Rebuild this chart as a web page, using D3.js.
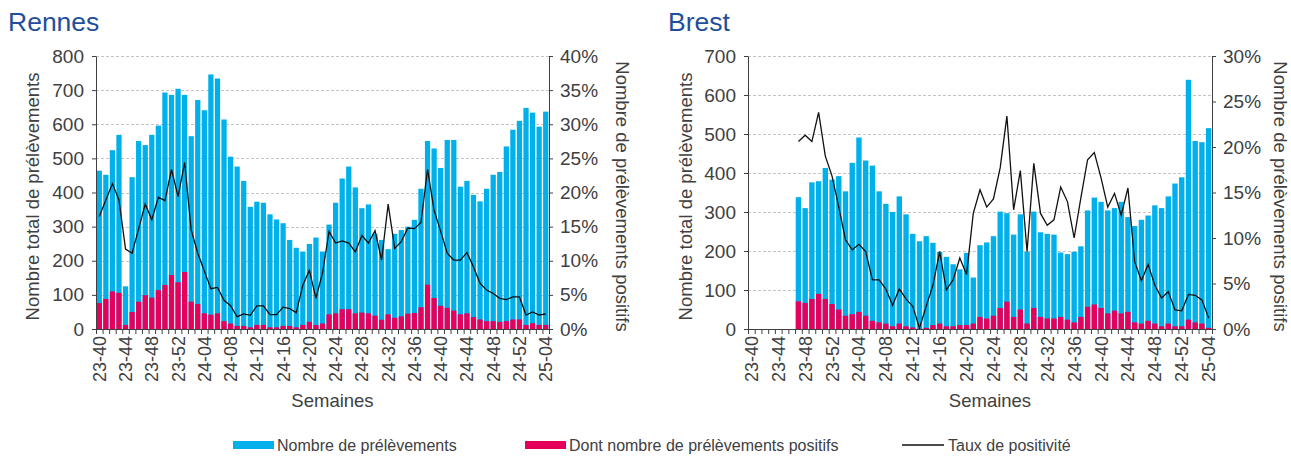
<!DOCTYPE html>
<html>
<head>
<meta charset="utf-8">
<script src="https://cdn.jsdelivr.net/npm/d3@7"></script>
<style>
  body { margin: 0; background: #fff; }
  svg { font-family: "Liberation Sans", Arial, sans-serif; }
</style>
</head>
<body>
<svg id="chart" width="1291" height="456"></svg>
<script>
/* Weeks (year-week) */
const weeks = [
  '23-40','23-41','23-42','23-43','23-44','23-45','23-46','23-47','23-48','23-49','23-50','23-51','23-52',
  '24-01','24-02','24-03','24-04','24-05','24-06','24-07','24-08','24-09','24-10','24-11','24-12','24-13',
  '24-14','24-15','24-16','24-17','24-18','24-19','24-20','24-21','24-22','24-23','24-24','24-25','24-26',
  '24-27','24-28','24-29','24-30','24-31','24-32','24-33','24-34','24-35','24-36','24-37','24-38','24-39',
  '24-40','24-41','24-42','24-43','24-44','24-45','24-46','24-47','24-48','24-49','24-50','24-51','24-52',
  '25-01','25-02','25-03','25-04'
];
const weekTicks = ['23-40','23-44','23-48','23-52','24-04','24-08','24-12','24-16','24-20','24-24',
  '24-28','24-32','24-36','24-40','24-44','24-48','24-52','25-04'];

/* Rennes */
const rennesTotal = [
  464, 452, 524, 569, 125, 445, 551, 539, 569, 596, 693, 686, 704,
  686, 565, 671, 641, 746, 734, 614, 505, 476, 434, 358, 373, 370,
  336, 321, 310, 261, 238, 227, 249, 268, 227, 306, 370, 441, 476,
  415, 354, 365, 279, 261, 234, 279, 290, 300, 320, 411, 551, 529,
  472, 554, 554, 417, 434, 393, 374, 411, 452, 460, 535, 584, 610,
  648, 634, 593, 637
];
const rennesPositive = [
  76, 88, 110, 106, 12, 50, 80, 99, 92, 114, 129, 158, 137,
  167, 80, 73, 46, 42, 46, 23, 16, 9, 9, 5, 12, 12,
  5, 5, 9, 9, 5, 12, 21, 12, 16, 43, 46, 58, 58,
  46, 48, 46, 39, 27, 43, 33, 37, 45, 47, 64, 130, 91,
  68, 62, 54, 43, 46, 35, 28, 23, 23, 21, 23, 28, 28,
  12, 17, 12, 12
];
const rennesRate = [
  16.5, 18.9, 21.3, 18.9, 11.7, 11.1, 14.7, 18.3, 16.0, 19.3, 18.8, 23.4, 19.4,
  24.4, 14.5, 11.1, 8.5, 5.9, 6.1, 4.2, 3.4, 1.8, 2.2, 2.0, 3.4, 3.4,
  2.1, 2.1, 3.2, 3.0, 2.4, 6.4, 8.6, 4.5, 8.2, 14.3, 12.6, 12.9, 12.6,
  11.3, 13.7, 12.6, 14.4, 10.1, 18.3, 11.8, 12.8, 14.8, 14.7, 15.6, 23.4, 17.4,
  14.3, 11.1, 10.1, 10.1, 11.2, 9.1, 6.7, 5.7, 5.2, 4.5, 4.3, 4.7, 4.7,
  2.05, 2.5, 2.05, 2.2
];
const rennesTicks = [0, 100, 200, 300, 400, 500, 600, 700, 800];
const rennesRateTicks = [0, 5, 10, 15, 20, 25, 30, 35, 40];

/* Brest (no data before 23-47) */
const brestTotal = [
  null, null, null, null, null, null, null, 338, 310, 376, 379, 413, 383,
  392, 353, 426, 491, 432, 419, 353, 321, 300, 340, 294, 244, 225,
  238, 221, 198, 185, 166, 153, 195, 132, 215, 222, 238, 301, 297,
  242, 294, 198, 301, 248, 244, 242, 196, 192, 198, 212, 304, 337,
  326, 304, 310, 326, 287, 264, 280, 291, 317, 310, 340, 373, 389,
  639, 482, 479, 515
];
const brestPositive = [
  null, null, null, null, null, null, null, 71, 67, 77, 90, 77, 64,
  50, 34, 38, 44, 34, 21, 17, 14, 7, 14, 7, 4, 1,
  3, 10, 14, 7, 7, 10, 10, 14, 31, 27, 34, 54, 70,
  31, 50, 14, 54, 31, 27, 27, 31, 24, 17, 31, 57, 63,
  54, 40, 47, 40, 44, 17, 14, 21, 14, 7, 14, 7, 7,
  24, 17, 14, 3
];
const brestRate = [
  null, null, null, null, null, null, null, 20.6, 21.3, 20.6, 23.8, 19.0, 16.8,
  13.4, 9.8, 8.7, 9.3, 8.5, 5.4, 5.4, 4.4, 2.6, 4.4, 3.3, 2.5, 0.1,
  2.5, 4.8, 8.5, 4.3, 5.4, 7.8, 6.0, 12.7, 15.3, 13.4, 14.3, 17.7, 23.4,
  13.1, 17.4, 8.5, 18.2, 12.7, 11.4, 12.0, 15.6, 14.0, 10.0, 14.4, 18.6, 19.4,
  16.6, 13.4, 14.9, 12.5, 15.5, 7.4, 5.3, 7.1, 4.8, 3.4, 4.1, 2.1, 2.0,
  3.8, 3.7, 3.2, 1.2
];
const brestTicks = [0, 100, 200, 300, 400, 500, 600, 700];
const brestRateTicks = [0, 5, 10, 15, 20, 25, 30];

/* Styles */
const blue = '#00b0ea';
const pink = '#e5005b';
const axisColor = '#404040';
const plotTop = 56, plotBottom = 329;

const svg = d3.select('#chart');

function drawPanel(cfg) {
  const g = svg.append('g');

  const x = d3.scaleBand().domain(weeks).range([cfg.left, cfg.right])
    .paddingInner(0.2).paddingOuter(0.1);
  const y = d3.scaleLinear().domain([0, d3.max(cfg.ticks)]).range([plotBottom, plotTop]);
  const y2 = d3.scaleLinear().domain([0, d3.max(cfg.rateTicks)]).range([plotBottom, plotTop]);

  const rows = weeks.map((w, i) => ({
    week: w, total: cfg.total[i], positive: cfg.positive[i], rate: cfg.rate[i]
  }));
  const filled = rows.filter(d => d.total != null);

  /* dashed gridlines */
  g.append('g').selectAll('line')
    .data(cfg.ticks.filter(d => d > 0))
    .join('line')
    .attr('x1', cfg.left).attr('x2', cfg.right)
    .attr('y1', d => Math.round(y(d)) + 0.5).attr('y2', d => Math.round(y(d)) + 0.5)
    .attr('stroke', '#c4c4c4')
    .attr('stroke-dasharray', '3,2');

  /* bars: total then positives on top */
  g.append('g').selectAll('rect')
    .data(filled)
    .join('rect')
    .attr('x', d => x(d.week))
    .attr('width', x.bandwidth())
    .attr('y', d => y(d.total))
    .attr('height', d => plotBottom - y(d.total))
    .attr('fill', blue);

  g.append('g').selectAll('rect')
    .data(filled)
    .join('rect')
    .attr('x', d => x(d.week))
    .attr('width', x.bandwidth())
    .attr('y', d => y(d.positive))
    .attr('height', d => plotBottom - y(d.positive))
    .attr('fill', pink);

  /* positivity line */
  const line = d3.line()
    .defined(d => d.rate != null)
    .x(d => x(d.week) + x.bandwidth() / 2)
    .y(d => y2(d.rate));
  g.append('path')
    .datum(rows)
    .attr('d', line)
    .attr('fill', 'none')
    .attr('stroke', '#111')
    .attr('stroke-width', 1.3);

  /* left axis */
  const left = g.append('g')
    .attr('transform', `translate(${cfg.left},0)`)
    .call(d3.axisLeft(y).tickValues(cfg.ticks).tickSize(4).tickSizeOuter(0).tickPadding(8));

  /* right axis */
  const right = g.append('g')
    .attr('transform', `translate(${cfg.right},0)`)
    .call(d3.axisRight(y2).tickValues(cfg.rateTicks).tickSize(4).tickSizeOuter(0).tickPadding(7)
      .tickFormat(d => d + '%'));

  /* x axis: a tick at each week boundary */
  const xb = d3.scaleLinear().domain([0, weeks.length]).range([cfg.left, cfg.right]);
  const bottomAxis = g.append('g')
    .attr('transform', `translate(0,${plotBottom})`)
    .call(d3.axisBottom(xb).tickValues(d3.range(weeks.length + 1)).tickSize(5)
      .tickSizeOuter(0).tickFormat(''));

  /* x labels, every 4 weeks, rotated */
  const labels = g.append('g')
    .attr('transform', `translate(0,${plotBottom})`)
    .call(d3.axisBottom(x).tickValues(weekTicks).tickSize(0).tickPadding(0));
  labels.select('.domain').remove();
  labels.selectAll('text')
    .attr('transform', 'rotate(-90)')
    .attr('x', -7)
    .attr('y', 0)
    .attr('dy', '0.36em')
    .style('text-anchor', 'end')
    .style('font-size', '18px');

  [left, right, bottomAxis].forEach(a => {
    a.selectAll('.domain, line').attr('stroke', axisColor);
    a.selectAll('text').attr('fill', axisColor).style('font-size', '19px');
  });
  labels.selectAll('text').attr('fill', axisColor);

  /* titles */
  g.append('text')
    .attr('x', cfg.titleX).attr('y', 31)
    .attr('fill', '#1f4e9c')
    .style('font-size', '26.5px')
    .text(cfg.name);

  g.append('text')
    .attr('transform', `translate(${cfg.leftTitleX},${(plotTop + plotBottom) / 2 + 4}) rotate(-90)`)
    .attr('text-anchor', 'middle')
    .attr('fill', axisColor)
    .style('font-size', '18.5px')
    .text('Nombre total de prélèvements');

  g.append('text')
    .attr('transform', `translate(${cfg.rightTitleX},${(plotTop + plotBottom) / 2 + 4}) rotate(90)`)
    .attr('text-anchor', 'middle')
    .attr('fill', axisColor)
    .style('font-size', '18.5px')
    .text('Nombre de prélèvements positifs');

  g.append('text')
    .attr('x', (cfg.left + cfg.right) / 2 + 10).attr('y', 407)
    .attr('text-anchor', 'middle')
    .attr('fill', axisColor)
    .style('font-size', '18.5px')
    .text('Semaines');
}

drawPanel({
  name: 'Rennes', titleX: 8, left: 96, right: 549,
  leftTitleX: 39, rightTitleX: 616,
  total: rennesTotal, positive: rennesPositive, rate: rennesRate,
  ticks: rennesTicks, rateTicks: rennesRateTicks
});

drawPanel({
  name: 'Brest', titleX: 668, left: 748, right: 1212,
  leftTitleX: 692, rightTitleX: 1274,
  total: brestTotal, positive: brestPositive, rate: brestRate,
  ticks: brestTicks, rateTicks: brestRateTicks
});

/* Legend */
const legendItems = [
  { label: 'Nombre de prélèvements', type: 'rect', color: blue, x: 233 },
  { label: 'Dont nombre de prélèvements positifs', type: 'rect', color: pink, x: 525 },
  { label: 'Taux de positivité', type: 'line', color: '#111', x: 902 }
];
const legend = svg.append('g').selectAll('g')
  .data(legendItems)
  .join('g')
  .attr('transform', d => `translate(${d.x},445)`);
legend.filter(d => d.type === 'rect').append('rect')
  .attr('x', 0).attr('y', -4).attr('width', 41).attr('height', 8)
  .attr('fill', d => d.color);
legend.filter(d => d.type === 'line').append('line')
  .attr('x1', 0).attr('x2', 42).attr('y1', 0).attr('y2', 0)
  .attr('stroke', d => d.color).attr('stroke-width', 1.3);
legend.append('text')
  .attr('x', d => d.type === 'rect' ? 44 : 46)
  .attr('y', 0).attr('dy', '0.35em')
  .attr('fill', axisColor)
  .style('font-size', '16px')
  .text(d => d.label);
</script>
</body>
</html>
